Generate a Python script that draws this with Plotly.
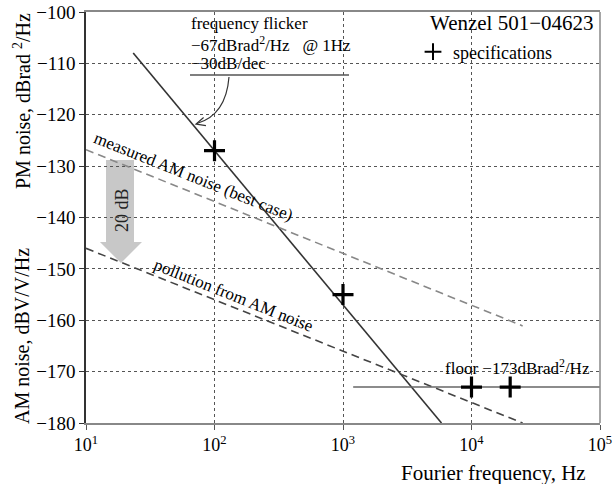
import plotly.graph_objects as go

# ---------------- data ----------------
flicker_f = [23.3, 5840]
flicker_db = [-108.0, -180.0]

meas_am_f = [10, 25000]
meas_am_db = [-126.8, -161.1]

poll_f = [10, 25000]
poll_db = [-146.0, -180.0]

floor_f = [1200, 100000]
floor_db = [-173.0, -173.0]

spec_f = [100, 1000, 10000, 20000]
spec_db = [-127, -155, -173, -173]

x_tickvals = [10, 100, 1000, 10000, 100000]
x_ticktext = ["10<sup>1</sup>", "10<sup>2</sup>", "10<sup>3</sup>", "10<sup>4</sup>", "10<sup>5</sup>"]

# ---------------- layout helpers (pixel -> paper) ----------------
W, H = 616, 484
L, R, T, B = 86, 16, 12, 61
PW, PH = W - L - R, H - T - B


def px(x, y):
    return (x - L) / PW, (H - B - y) / PH


FONT = "Liberation Serif"

fig = go.Figure()

fig.add_trace(go.Scatter(x=flicker_f, y=flicker_db, mode="lines",
                         line=dict(color="#333333", width=1.6), showlegend=False))
fig.add_trace(go.Scatter(x=meas_am_f, y=meas_am_db, mode="lines",
                         line=dict(color="#888888", width=1.6, dash="8px,5px"), showlegend=False))
fig.add_trace(go.Scatter(x=poll_f, y=poll_db, mode="lines",
                         line=dict(color="#444444", width=1.6, dash="8px,5px"), showlegend=False))
fig.add_trace(go.Scatter(x=floor_f, y=floor_db, mode="lines",
                         line=dict(color="#666666", width=1.6), showlegend=False))
fig.add_trace(go.Scatter(x=spec_f, y=spec_db, mode="markers", name="specifications",
                         marker=dict(symbol="cross-thin", size=15,
                                     line=dict(color="black", width=3.2), color="black")))

shapes = []
# white boxes hiding grid behind text
for (x0, y0, x1, y1) in [(187, 12.5, 352, 83), (440, 357, 596, 378)]:
    a0, b0 = px(x0, y1)
    a1, b1 = px(x1, y0)
    shapes.append(dict(type="rect", xref="paper", yref="paper", x0=a0, y0=b0, x1=a1, y1=b1,
                       fillcolor="white", line=dict(width=0), layer="between"))

# grey "20 dB" arrow
pts = [(106, 160), (134, 160), (134, 242), (142, 242), (121, 263), (100, 242), (106, 242)]
path = "M " + " L ".join("%.4f,%.4f" % px(x, y) for x, y in pts) + " Z"
shapes.append(dict(type="path", xref="paper", yref="paper", path=path,
                   fillcolor="#c8c8c8", line=dict(width=0), layer="between"))

# underline of the flicker annotation
u0 = px(190, 75)
u1 = px(349, 75)
shapes.append(dict(type="line", xref="paper", yref="paper", x0=u0[0], y0=u0[1], x1=u1[0], y1=u1[1],
                   line=dict(color="#555555", width=1.5)))

# curved pointer
s = px(229, 77)
c = px(226, 115)
e = px(197, 123.5)
shapes.append(dict(type="path", xref="paper", yref="paper",
                   path="M %.4f,%.4f Q %.4f,%.4f %.4f,%.4f" % (s + c + e),
                   line=dict(color="#333333", width=1.2)))
h1 = px(205.9, 125.6)
tip = px(196, 124)
h2 = px(203.6, 117.5)
shapes.append(dict(type="path", xref="paper", yref="paper",
                   path="M %.4f,%.4f L %.4f,%.4f L %.4f,%.4f" % (h1 + tip + h2),
                   line=dict(color="#333333", width=1.2)))

# frame: right edge grey
shapes.append(dict(type="line", xref="paper", yref="paper", x0=1, y0=0, x1=1, y1=1,
                   line=dict(color="#888888", width=1.5)))

annotations = []


def ann(text, x, y, size=16, xanchor="center", yanchor="middle", angle=0, align="center", color="black"):
    a, b = px(x, y)
    annotations.append(dict(text=text, x=a, y=b, xref="paper", yref="paper", showarrow=False,
                            xanchor=xanchor, yanchor=yanchor, textangle=angle, align=align,
                            font=dict(family=FONT, size=size, color=color)))


ann("frequency flicker", 189, 24, size=17, xanchor="left")
ann("\u221267dBrad<sup>2</sup>/Hz\u00a0\u00a0\u00a0@ 1Hz", 189, 44, size=17, xanchor="left")
ann("\u221230dB/dec", 189, 64, size=17, xanchor="left")
ann("Wenzel 501\u221204623", 596, 23, size=21, xanchor="right")
ann("floor \u2212173dBrad<sup>2</sup>/Hz", 443, 367, size=17, xanchor="left")
ann("measured AM noise (best case)", 193, 177, size=17, angle=21.8)
ann("pollution from AM noise", 234, 295, size=17, angle=21.8)
ann("20 dB", 122, 210, size=18, angle=-90, color="#222222")
ann("PM noise, dBrad <sup>2</sup>/Hz", 22, 101, size=20, angle=-90)
ann("AM noise, dBV/V/Hz", 22, 336, size=20, angle=-90)
ann("Fourier frequency, Hz", 588, 473, size=21, xanchor="right")

lg = px(413, 52)

fig.update_layout(
    width=W, height=H,
    margin=dict(l=L, r=R, t=T, b=B, autoexpand=False),
    paper_bgcolor="white", plot_bgcolor="white",
    font=dict(family=FONT, size=17, color="black"),
    shapes=shapes, annotations=annotations,
    showlegend=True,
    legend=dict(x=lg[0], y=lg[1], xanchor="left", yanchor="middle", bgcolor="rgba(0,0,0,0)",
                font=dict(family=FONT, size=18), itemwidth=30, itemsizing="constant"),
    xaxis=dict(type="log", range=[1, 5], tickvals=x_tickvals, ticktext=x_ticktext,
               showgrid=True, gridcolor="#555555", griddash="dot", gridwidth=1,
               ticks="outside", ticklen=5, tickcolor="#555555",
               showline=True, linecolor="#888888", linewidth=1.5, mirror=True,
               zeroline=False, automargin=False, tickfont=dict(family=FONT, size=18)),
    yaxis=dict(range=[-180, -100], tick0=-180, dtick=10,
               showgrid=True, gridcolor="#555555", griddash="dot", gridwidth=1,
               ticks="outside", ticklen=5, tickcolor="#333333",
               showline=True, linecolor="#333333", linewidth=1.5, mirror=False,
               zeroline=False, automargin=False, tickfont=dict(family=FONT, size=19)),
)

fig.write_html("out.html", config={"displayModeBar": False},
               post_script="document.body.style.margin='0';document.body.style.overflow='hidden';")
